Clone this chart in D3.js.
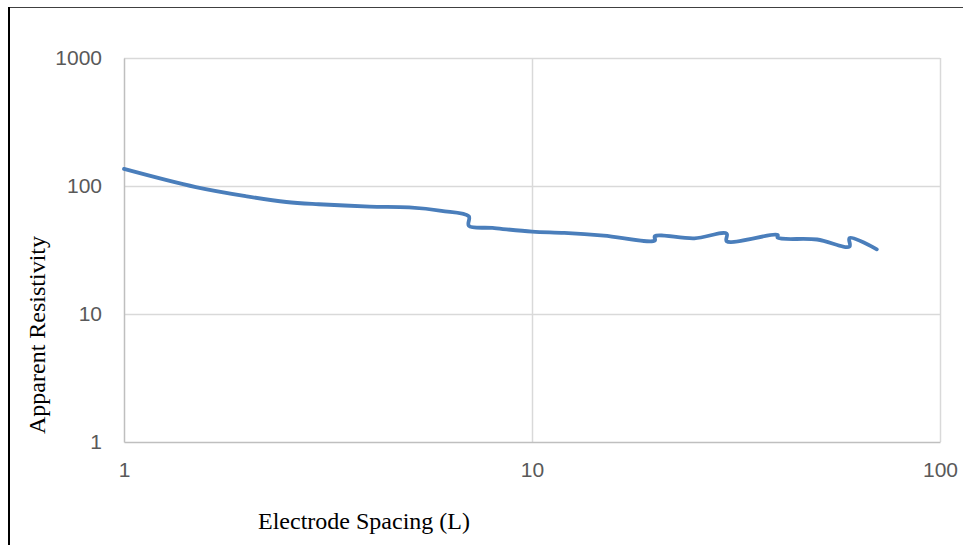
<!DOCTYPE html>
<html lang="en">
<head>
  <meta charset="UTF-8">
  <title>Apparent Resistivity</title>
  <style>
    body { margin: 0; background: #fff; }
    .tick text { font-family: "Liberation Sans", Arial, sans-serif; font-size: 21px; fill: #595959; }
    .title { font-family: "Liberation Serif", "Times New Roman", serif; font-size: 24px; fill: #000; }
  </style>
</head>
<body>
  <svg id="chart" width="963" height="545"></svg>

  <script src="https://d3js.org/d3.v7.min.js"></script>
  <script>
    // electrode spacing (L) and apparent resistivity
    const spacing = [1, 1.5, 2, 2.5, 3, 4, 5, 6, 7, 7, 8, 10, 12, 15, 20, 20, 25, 30, 30, 40, 40, 50, 60, 60, 70];
    const resistivity = [136, 98, 83, 75, 72, 69, 68, 64, 58, 49, 47, 44, 43, 41, 37.5, 40.5, 39, 42.5, 37, 41.5, 39.5, 38.2, 33.6, 39.2, 32];
    const xTicks = [1, 10, 100];
    const yTicks = [1, 10, 100, 1000];

    const svg = d3.select("#chart");

    // outer frame (only top and left show in the picture)
    svg.append("line")
      .attr("x1", 8).attr("y1", 7.5).attr("x2", 963).attr("y2", 7.5)
      .attr("stroke", "#404040").attr("stroke-width", 1.2);
    svg.append("line")
      .attr("x1", 9).attr("y1", 7).attr("x2", 9).attr("y2", 545)
      .attr("stroke", "#000").attr("stroke-width", 2);

    const plotLeft = 124, plotRight = 940, plotTop = 58, plotBottom = 442;

    const xScale = d3.scaleLog().domain([1, 100]).range([plotLeft, plotRight]);
    const yScale = d3.scaleLog().domain([1, 1000]).range([plotBottom, plotTop]);

    // gridlines
    svg.append("g").selectAll("line")
      .data(yTicks.slice(1))
      .enter().append("line")
      .attr("x1", plotLeft).attr("x2", plotRight)
      .attr("y1", d => Math.round(yScale(d)) + 0.5)
      .attr("y2", d => Math.round(yScale(d)) + 0.5)
      .attr("stroke", "#d9d9d9").attr("stroke-width", 1.5);

    svg.append("g").selectAll("line")
      .data(xTicks.slice(1))
      .enter().append("line")
      .attr("x1", d => Math.round(xScale(d)) + 0.5)
      .attr("x2", d => Math.round(xScale(d)) + 0.5)
      .attr("y1", plotTop).attr("y2", plotBottom)
      .attr("stroke", "#d9d9d9").attr("stroke-width", 1.5);

    // axes
    const xAxis = d3.axisBottom(xScale).tickValues(xTicks).tickFormat(d3.format("d")).tickSize(0).tickPadding(20);
    const gx = svg.append("g").attr("transform", `translate(0, ${plotBottom})`).call(xAxis);
    gx.select(".domain").attr("stroke", "#bfbfbf").attr("stroke-width", 1.5);

    const yAxis = d3.axisLeft(yScale).tickValues(yTicks).tickFormat(d3.format("d")).tickSize(0).tickPadding(22);
    const gy = svg.append("g").attr("transform", `translate(${plotLeft}, 0)`).call(yAxis);
    gy.select(".domain").attr("stroke", "#bfbfbf").attr("stroke-width", 1.5);

    // data line
    const pts = spacing.map((s, i) => [s, resistivity[i]]);
    const line = d3.line()
      .x(d => xScale(d[0]))
      .y(d => yScale(d[1]))
      .curve(d3.curveCatmullRom.alpha(0.5));

    svg.append("path")
      .datum(pts)
      .attr("d", line)
      .attr("fill", "none")
      .attr("stroke", "#4a7ebb")
      .attr("stroke-width", 3.8)
      .attr("stroke-linejoin", "round")
      .attr("stroke-linecap", "round");

    // axis titles
    svg.append("text")
      .attr("class", "title")
      .attr("x", 364).attr("y", 529)
      .attr("text-anchor", "middle")
      .text("Electrode Spacing (L)");

    svg.append("text")
      .attr("class", "title")
      .attr("transform", "translate(45, 335) rotate(-90)")
      .attr("text-anchor", "middle")
      .text("Apparent Resistivity");
  </script>
</body>
</html>
